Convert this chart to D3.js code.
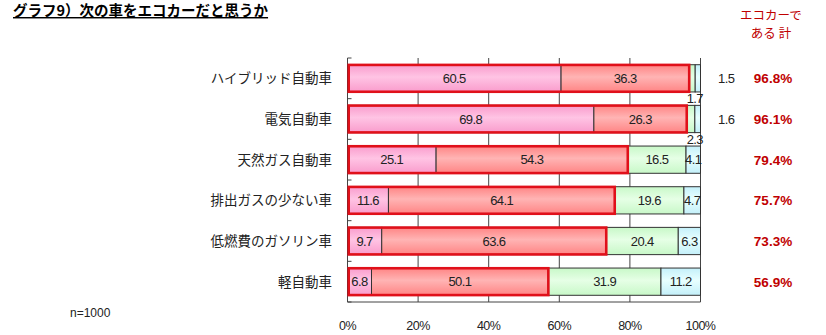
<!DOCTYPE html>
<html><head><meta charset="utf-8">
<script src="https://cdn.jsdelivr.net/npm/d3@7"></script>
<style>
body{margin:0;background:#fff;}
text{font-family:"Liberation Sans","Noto Sans CJK JP",sans-serif;}
.jp{font-family:"Noto Sans CJK JP",sans-serif;}
</style></head><body>
<svg id="c" width="826" height="335"></svg>
<script>
const categories = ["ハイブリッド自動車","電気自動車","天然ガス自動車","排出ガスの少ない車","低燃費のガソリン車","軽自動車"];
const seriesA = [60.5, 69.8, 25.1, 11.6, 9.7, 6.8];   // そう思う
const seriesB = [36.3, 26.3, 54.3, 64.1, 63.6, 50.1]; // ややそう思う
const seriesC = [1.7, 2.3, 16.5, 19.6, 20.4, 31.9];
const seriesD = [1.5, 1.6, 4.1, 4.7, 6.3, 11.2];
const totals = [96.8, 96.1, 79.4, 75.7, 73.3, 56.9];
const xTicks = [0, 20, 40, 60, 80, 100];

const svg = d3.select("#c");
const x = d3.scaleLinear().domain([0,100]).range([347.5, 700.5]);
const y = d3.scaleBand().domain(categories).range([58, 302]).paddingInner(0.33).paddingOuter(0.165);

const defs = svg.append("defs");
function grad(id, c1, c2){
  const g = defs.append("linearGradient").attr("id", id).attr("x1",0).attr("x2",0).attr("y1",0).attr("y2",1);
  g.append("stop").attr("offset","0%").attr("stop-color",c2);
  g.append("stop").attr("offset","45%").attr("stop-color",c1);
  g.append("stop").attr("offset","100%").attr("stop-color",c2);
}
grad("gA","#ffc4e4","#f99ccc");
grad("gB","#ffb4b4","#ff8484");
grad("gC","#e6ffe6","#c8f8c8");
grad("gD","#e8ffff","#c4f0fa");
const fills = ["url(#gA)","url(#gB)","url(#gC)","url(#gD)"];

// title
svg.append("text").attr("class","jp").attr("x",13).attr("y",16).attr("font-size",14.5).attr("font-weight","bold")
  .attr("text-decoration","underline").attr("fill","#000").text("グラフ9）次の車をエコカーだと思うか");

// gridlines
svg.append("g").selectAll("line").data(xTicks).join("line")
  .attr("x1",d=>x(d)).attr("x2",d=>x(d)).attr("y1",58).attr("y2",302)
  .attr("stroke","#444").attr("stroke-width",1);
// left axis + ticks
svg.append("line").attr("x1",x(0)).attr("x2",x(0)).attr("y1",58).attr("y2",302).attr("stroke","#444");
svg.append("line").attr("x1",x(0)).attr("x2",x(100)).attr("y1",302).attr("y2",302).attr("stroke","#444");
const bounds = d3.range(categories.length+1).map(i=>58 + i*(244/categories.length));
svg.append("g").selectAll("line").data(bounds).join("line")
  .attr("x1",x(0)).attr("x2",x(0)+4).attr("y1",d=>d).attr("y2",d=>d).attr("stroke","#444");

// x labels
svg.append("g").selectAll("text").data(xTicks).join("text")
  .attr("x",d=>x(d)).attr("y",330).attr("text-anchor","middle").attr("font-size",12.5).attr("fill","#222")
  .attr("letter-spacing","-0.5").text(d=>d+"%");

// category labels
svg.append("g").selectAll("text").data(categories).join("text").attr("class","jp")
  .attr("x",332).attr("y",d=>y(d)+y.bandwidth()/2+5).attr("text-anchor","end").attr("font-size",13.5).attr("fill","#222")
  .text(d=>d);

const rows = categories.map((c,i)=>({c, vals:[seriesA[i],seriesB[i],seriesC[i],seriesD[i]], total:totals[i]}));
const bh = y.bandwidth();
rows.forEach((r,i)=>{
  let cum = 0;
  const segs = r.vals.map((v,k)=>{const s={k,v,x0:cum,x1:cum+v}; cum+=v; return s;});
  const g = svg.append("g");
  g.selectAll("rect").data(segs).join("rect")
    .attr("x",d=>x(d.x0)).attr("y",y(r.c)).attr("width",d=>x(d.x1)-x(d.x0)).attr("height",bh)
    .attr("fill",d=>fills[d.k]).attr("stroke","#333").attr("stroke-width",1);
  // red outline over first two
  g.append("rect").attr("x",x(0)+1.2).attr("y",y(r.c)+0.2).attr("width",x(segs[1].x1)-x(0)-1.2).attr("height",bh-0.4)
    .attr("fill","none").attr("stroke","#e0101a").attr("stroke-width",2.6);
  // labels
  segs.forEach(s=>{
    const cx = (x(s.x0)+x(s.x1))/2, cy = y(r.c)+bh/2+4.5;
    if (s.v >= 4) {
      g.append("text").attr("x",cx).attr("y",cy).attr("text-anchor","middle").attr("font-size",13)
        .attr("letter-spacing","-0.6").attr("fill","#222").text(s.v.toFixed(1));
    } else if (s.k===3) {
      g.append("text").attr("x",718).attr("y",cy).attr("text-anchor","start").attr("font-size",13)
        .attr("letter-spacing","-0.6").attr("fill","#222").text(s.v.toFixed(1));
    } else {
      g.append("text").attr("x",703).attr("y",y(r.c)+bh+11).attr("text-anchor","end").attr("font-size",13)
        .attr("letter-spacing","-0.6").attr("fill","#222").text(s.v.toFixed(1));
    }
  });
  svg.append("text").attr("x",773).attr("y",y(r.c)+bh/2+5).attr("text-anchor","middle").attr("font-size",13.5)
    .attr("font-weight","bold").attr("fill","#c00000").text(r.total.toFixed(1)+"%");
});

// header
svg.append("text").attr("class","jp").attr("x",771).attr("y",20).attr("text-anchor","middle").attr("font-size",12.5).attr("fill","#c00000").text("エコカーで");
svg.append("text").attr("class","jp").attr("x",771).attr("y",38).attr("text-anchor","middle").attr("font-size",12.5).attr("fill","#c00000").text("ある 計");

svg.append("text").attr("x",70).attr("y",317).attr("font-size",12).attr("fill","#222").text("n=1000");
</script>
</body></html>
